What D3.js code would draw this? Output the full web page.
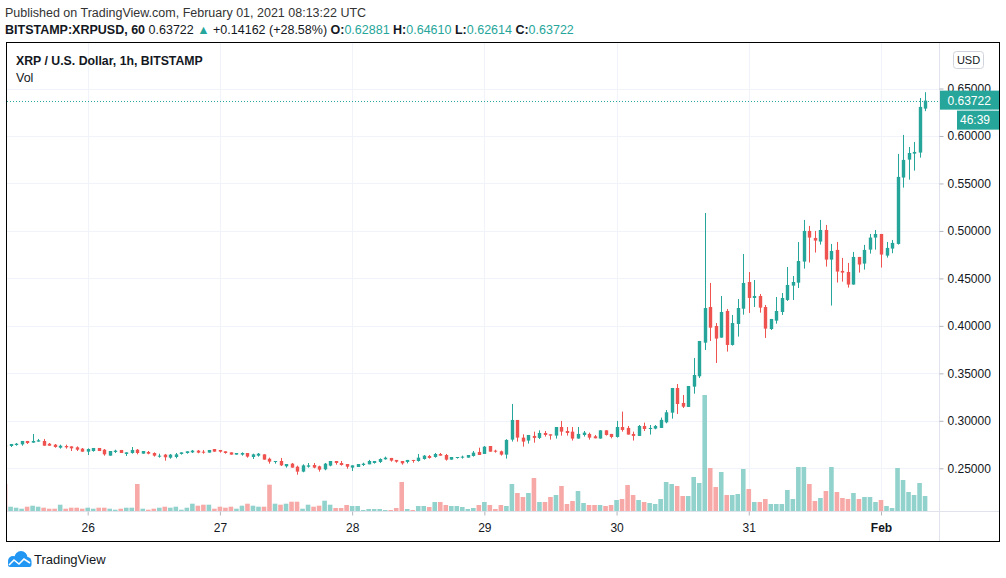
<!DOCTYPE html>
<html>
<head>
<meta charset="utf-8">
<script src="https://cdn.jsdelivr.net/npm/d3@7"></script>
<style>
  html, body { margin: 0; padding: 0; background: #ffffff; }
  svg { display: block; font-family: "Liberation Sans", Arial, sans-serif; }
</style>
</head>
<body>
<svg id="vis" width="1006" height="578"></svg>
<script>
// hourly bars, first one is Jan 25 09:00 UTC
var startTime = Date.UTC(2021, 0, 25, 9);

var opens = [
  .2740,.2735,.2745,.2752,.2788,.2770,.2781,.2788,.2759,.2749,.2717,.2735,
  .2731,.2721,.2707,.2675,.2682,.2714,.2696,.2633,.2672,.2693,.2651,.2661,
  .2696,.2654,.2672,.2661,.2626,.2644,.2612,.2619,.2651,.2661,.2668,.2686,
  .2675,.2665,.2703,.2693,.2679,.2668,.2644,.2644,.2661,.2619,.2633,.2647,
  .2601,.2566,.2577,.2521,.2549,.2517,.2465,.2517,.2535,.2521,.2489,.2528,
  .2577,.2556,.2545,.2507,.2514,.2535,.2542,.2556,.2567,.2595,.2609,.2588,
  .2577,.2567,.2588,.2577,.2598,.2630,.2619,.2651,.2640,.2591,.2612,.2612,
  .2612,.2630,.2672,.2651,.2735,.2686,.2679,.2644,.2802,.3009,.2823,.2792,
  .2841,.2820,.2872,.2858,.2844,.2935,.2893,.2886,.2813,.2851,.2862,.2837,
  .2813,.2900,.2862,.2830,.2935,.2925,.2862,.2841,.2946,.2914,.2918,.2925,
  .2984,.3086,.3346,.3188,.3146,.3360,.3469,.3823,.4199,.3999,.3876,.4157,
  .3799,.4020,.4181,.4462,.4294,.4315,.4199,.3967,.4055,.4146,.4273,.4424,
  .4455,.4677,.5000,.4926,.4888,.5010,.4698,.4800,.4579,.4568,.4435,.4726,
  .4656,.4803,.4930,.4968,.4740,.4814,.4863,.5562,.5751,.5814,.5825,.62881
];
var highs = [
  .2752,.2756,.2766,.2788,.2788,.2861,.2809,.2809,.2766,.2756,.2749,.2749,
  .2731,.2731,.2714,.2710,.2714,.2714,.2703,.2682,.2696,.2693,.2668,.2724,
  .2703,.2682,.2682,.2668,.2654,.2651,.2651,.2661,.2668,.2679,.2693,.2693,
  .2693,.2693,.2703,.2693,.2679,.2668,.2661,.2668,.2661,.2654,.2661,.2647,
  .2612,.2577,.2609,.2545,.2556,.2528,.2542,.2556,.2556,.2528,.2556,.2577,
  .2577,.2577,.2545,.2531,.2545,.2559,.2588,.2577,.2605,.2623,.2609,.2588,
  .2577,.2588,.2588,.2651,.2640,.2640,.2661,.2661,.2651,.2619,.2619,.2633,
  .2640,.2682,.2717,.2735,.2735,.2696,.2686,.2806,.3178,.3009,.2858,.2851,
  .2886,.2900,.2893,.2858,.2935,.2999,.2935,.2935,.2935,.2893,.2876,.2851,
  .2900,.2900,.2862,.2999,.3097,.2946,.2886,.2956,.2981,.2956,.2956,.3034,
  .3114,.3346,.3388,.3272,.3367,.3662,.3841,.5189,.4452,.4030,.4315,.4178,
  .4115,.4283,.4757,.4567,.4483,.4336,.4220,.4073,.4304,.4346,.4620,.4525,
  .4883,.5116,.5053,.5000,.5116,.5063,.4863,.4884,.4716,.4663,.4779,.4726,
  .4853,.4968,.5010,.4968,.4884,.4905,.5811,.6011,.5884,.5937,.6400,.64610
];
var lows = [
  .2728,.2724,.2738,.2738,.2756,.2770,.2781,.2738,.2738,.2717,.2707,.2707,
  .2682,.2682,.2675,.2640,.2675,.2682,.2633,.2633,.2661,.2661,.2630,.2654,
  .2647,.2654,.2647,.2623,.2612,.2580,.2601,.2605,.2644,.2654,.2661,.2658,
  .2654,.2665,.2675,.2665,.2654,.2644,.2644,.2633,.2612,.2598,.2623,.2591,
  .2549,.2549,.2524,.2507,.2507,.2433,.2458,.2507,.2500,.2465,.2479,.2521,
  .2538,.2528,.2496,.2472,.2514,.2524,.2542,.2549,.2556,.2591,.2570,.2559,
  .2538,.2552,.2559,.2570,.2591,.2602,.2612,.2633,.2581,.2591,.2602,.2602,
  .2612,.2623,.2640,.2651,.2675,.2665,.2634,.2602,.2781,.2781,.2728,.2760,
  .2770,.2809,.2834,.2802,.2813,.2844,.2844,.2792,.2813,.2834,.2802,.2816,
  .2813,.2844,.2816,.2823,.2886,.2855,.2792,.2841,.2893,.2855,.2911,.2925,
  .2974,.3023,.3072,.3135,.3146,.3286,.3451,.3746,.3841,.3609,.3876,.3729,
  .3792,.3887,.4118,.4136,.4199,.4139,.3873,.3957,.4023,.4115,.4262,.4273,
  .4399,.4603,.4667,.4772,.4856,.4624,.4214,.4456,.4466,.4403,.4435,.4561,
  .4593,.4761,.4803,.4614,.4719,.4765,.4856,.5456,.5540,.5635,.5772,.62614
];
var closes = [
  .2735,.2756,.2759,.2788,.2766,.2788,.2795,.2738,.2738,.2724,.2738,.2721,
  .2710,.2696,.2675,.2703,.2714,.2682,.2647,.2682,.2686,.2661,.2668,.2693,
  .2661,.2682,.2654,.2633,.2633,.2616,.2644,.2647,.2668,.2679,.2686,.2665,
  .2668,.2693,.2675,.2675,.2661,.2644,.2661,.2661,.2623,.2647,.2654,.2591,
  .2570,.2577,.2531,.2545,.2507,.2465,.2531,.2531,.2507,.2486,.2549,.2577,
  .2556,.2535,.2517,.2531,.2545,.2549,.2577,.2577,.2598,.2612,.2581,.2570,
  .2552,.2588,.2581,.2612,.2633,.2609,.2651,.2633,.2591,.2619,.2619,.2623,
  .2640,.2665,.2640,.2728,.2675,.2675,.2644,.2799,.3009,.2823,.2781,.2851,
  .2820,.2872,.2851,.2844,.2935,.2886,.2872,.2813,.2862,.2876,.2823,.2816,
  .2900,.2851,.2830,.2935,.2904,.2855,.2841,.2946,.2914,.2925,.2946,.3010,
  .3090,.3346,.3177,.3149,.3367,.3483,.3841,.4188,.3981,.3866,.4146,.3799,
  .4030,.4188,.4452,.4294,.4315,.4192,.3971,.4073,.4157,.4294,.4431,.4462,
  .4683,.5000,.4930,.4898,.5010,.4698,.4789,.4572,.4561,.4435,.4726,.4646,
  .4800,.4930,.4968,.4751,.4821,.4874,.5569,.5748,.5821,.5832,.6306,.63722
];
// volume, millions of XRP (estimated)
var volumes = [
  28,5.3,4.3,3.3,5.3,6.3,5.3,4.3,3.3,3.3,7.3,3.3,
  4.3,4.3,3.3,4.3,3.3,4.3,4.3,3.3,2.3,3.3,4.3,4.3,
  28,3.3,2.3,3.3,4.3,5.3,4.3,5.3,2.3,4.3,8.3,6.3,
  7.3,7.3,3.3,5.3,4.3,5.3,3.3,6.3,8.3,6.3,5.3,5.3,
  27.3,8.3,7.3,8.3,10.3,10.3,3.3,7.3,5.3,6.3,11.3,7.3,
  4,4,7,6,6,2,3,3,3,2,2,4,
  30,3,2,6,6,5,10,10,7,6,6,5,
  3,4,7,10,7,3,7,6,28,19,15,19,
  34,10,10,15,17,26,8,11,21,9,7,7,
  7,6,7,12,13,27,17,12,10,9,8,13,
  30,28,26,16,16,35,29,117,44,25,40,17,
  17,18,43,23,10,10,13,8,8,8,22,13,
  45,45,28,11,14,21,45,20,14,13,19,13,
  15,15,10,12,6,4,44,32,20,17,29,16
];

var dayTicks = [26, 27, 28, 29, 30, 31, 32];
var dayLabels = ["26", "27", "28", "29", "30", "31", "Feb"];
var priceTicks = [0.25, 0.30, 0.35, 0.40, 0.45, 0.50, 0.55, 0.60, 0.65];
var lastPrice = 0.63722;
var countdown = "46:39";

var MARGINS = {top: 43, right: 940, bottom: 512, left: 7};
var UP = "#26a69a", DOWN = "#ef5350";
var UP_VOL = "#92d2cc", DOWN_VOL = "#f7a9a7";
var GRID = "#f0f3fa", LINE = "#e0e3eb", TEXT = "#131722";

var display = d3.select("#vis");

var bars = opens.map(function (o, i) {
    return {time: new Date(startTime + i * 3600000), o: o, h: highs[i], l: lows[i], c: closes[i], v: volumes[i]};
});

var xScale = d3.scaleUtc()
    .domain([Date.UTC(2021, 0, 26), Date.UTC(2021, 1, 1)])
    .range([87.7, 881]);
var yScale = d3.scaleLinear()
    .domain([0.25, 0.65])
    .range([468.3, 88.5]);
var volScale = d3.scaleLinear()
    .domain([0, 120])
    .range([MARGINS.bottom, MARGINS.bottom - 120]);
var dayDates = dayTicks.map(function (d) { return new Date(Date.UTC(2021, 0, d)); });

// header text
display.append("text")
    .attr("x", 5).attr("y", 17)
    .style("font-size", "12.5px").attr("fill", "#333")
    .text("Published on TradingView.com, February 01, 2021 08:13:22 UTC");

var head = display.append("text")
    .attr("x", 5).attr("y", 34)
    .style("font-size", "12.5px").attr("fill", TEXT);
head.append("tspan").style("font-weight", "bold").text("BITSTAMP:XRPUSD, 60");
head.append("tspan").text(" 0.63722 ");
head.append("tspan").attr("fill", UP).text("\u25B2");
head.append("tspan").text(" +0.14162 (+28.58%) ");
[["O:", "0.62881"], ["H:", "0.64610"], ["L:", "0.62614"], ["C:", "0.63722"]].forEach(function (p, i) {
    head.append("tspan").style("font-weight", "bold").text((i ? " " : "") + p[0]);
    head.append("tspan").attr("fill", UP).text(p[1]);
});

// grid
var grid = display.append("g");
grid.selectAll("line.h").data(priceTicks).enter().append("line")
    .attr("x1", MARGINS.left).attr("x2", MARGINS.right)
    .attr("y1", function (d) { return Math.round(yScale(d)) + 0.5; })
    .attr("y2", function (d) { return Math.round(yScale(d)) + 0.5; })
    .attr("stroke", GRID);
grid.selectAll("line.v").data(dayDates).enter().append("line")
    .attr("x1", function (d) { return Math.round(xScale(d)) + 0.5; })
    .attr("x2", function (d) { return Math.round(xScale(d)) + 0.5; })
    .attr("y1", MARGINS.top).attr("y2", MARGINS.bottom)
    .attr("stroke", GRID);

display.append("clipPath").attr("id", "plotClip")
    .append("rect")
    .attr("x", MARGINS.left).attr("y", MARGINS.top)
    .attr("width", MARGINS.right - MARGINS.left)
    .attr("height", MARGINS.bottom - MARGINS.top);

var plot = display.append("g").attr("clip-path", "url(#plotClip)");

// volume bars
plot.append("g").selectAll("rect").data(bars).enter().append("rect")
    .attr("x", function (d) { return xScale(d.time) - 2.3; })
    .attr("width", 4.6)
    .attr("y", function (d) { return volScale(d.v); })
    .attr("height", function (d) { return volScale(0) - volScale(d.v); })
    .attr("fill", function (d) { return d.c >= d.o ? UP_VOL : DOWN_VOL; });

// candles
var candle = plot.append("g").selectAll("g").data(bars).enter().append("g");
candle.append("line")
    .attr("x1", function (d) { return Math.round(xScale(d.time)) + 0.5; })
    .attr("x2", function (d) { return Math.round(xScale(d.time)) + 0.5; })
    .attr("y1", function (d) { return yScale(d.h); })
    .attr("y2", function (d) { return yScale(d.l); })
    .attr("stroke", function (d) { return d.c >= d.o ? UP : DOWN; });
candle.append("rect")
    .attr("x", function (d) { return Math.round(xScale(d.time)) + 0.5 - 1.7; })
    .attr("width", 3.4)
    .attr("y", function (d) { return yScale(Math.max(d.o, d.c)); })
    .attr("height", function (d) { return Math.max(1, yScale(Math.min(d.o, d.c)) - yScale(Math.max(d.o, d.c))); })
    .attr("fill", function (d) { return d.c >= d.o ? UP : DOWN; });

// last price dotted line
plot.append("line")
    .attr("x1", MARGINS.left).attr("x2", MARGINS.right)
    .attr("y1", Math.round(yScale(lastPrice)) + 0.5)
    .attr("y2", Math.round(yScale(lastPrice)) + 0.5)
    .attr("stroke", UP).attr("stroke-dasharray", "1,2");

// separators
display.append("line")
    .attr("x1", MARGINS.right - 0.5).attr("x2", MARGINS.right - 0.5)
    .attr("y1", MARGINS.top).attr("y2", 541)
    .attr("stroke", LINE);
display.append("line")
    .attr("x1", MARGINS.left).attr("x2", 999)
    .attr("y1", MARGINS.bottom - 0.5).attr("y2", MARGINS.bottom - 0.5)
    .attr("stroke", LINE);

// price axis
var yAxis = d3.axisRight(yScale)
    .tickValues(priceTicks)
    .tickSize(4)
    .tickPadding(4)
    .tickFormat(d3.format(".5f"));
var yg = display.append("g")
    .attr("transform", "translate(" + (MARGINS.right - 0.5) + ",0)")
    .call(yAxis);
yg.select(".domain").remove();
yg.selectAll(".tick line").attr("stroke", "#b2b5be");
yg.selectAll(".tick text").attr("fill", TEXT).style("font-size", "12px")
    .style("font-family", "Liberation Sans, Arial, sans-serif");

// time axis
var xAxis = d3.axisBottom(xScale)
    .tickValues(dayDates)
    .tickSize(4)
    .tickFormat(function (d, i) { return dayLabels[i]; });
var xg = display.append("g")
    .attr("transform", "translate(0," + (MARGINS.bottom - 0.5) + ")")
    .call(xAxis);
xg.select(".domain").remove();
xg.selectAll(".tick line").attr("stroke", "#b2b5be");
xg.selectAll(".tick text")
    .attr("y", 16).attr("dy", "0.35em")
    .attr("fill", TEXT).style("font-size", "12px")
    .style("font-family", "Liberation Sans, Arial, sans-serif")
    .style("font-weight", function (d, i) { return dayLabels[i] === "Feb" ? "bold" : "normal"; });

// price label + countdown
var py = yScale(lastPrice);
display.append("rect")
    .attr("x", MARGINS.right).attr("y", py - 10).attr("width", 59).attr("height", 19)
    .attr("fill", UP);
display.append("text")
    .attr("x", 947.5).attr("y", py).attr("dy", "0.35em")
    .attr("fill", "#fff").style("font-size", "12px")
    .text(d3.format(".5f")(lastPrice));
display.append("rect")
    .attr("x", 957).attr("y", py + 10).attr("width", 42).attr("height", 19)
    .attr("fill", UP);
display.append("text")
    .attr("x", 990).attr("y", py + 19.5).attr("dy", "0.35em")
    .attr("text-anchor", "end")
    .attr("fill", "#fff").style("font-size", "12px")
    .text(countdown);

// currency button
display.append("rect")
    .attr("x", 953.5).attr("y", 51.5).attr("width", 30).attr("height", 17).attr("rx", 3)
    .attr("fill", "#fff").attr("stroke", "#d1d4dc");
display.append("text")
    .attr("x", 968.5).attr("y", 60).attr("dy", "0.35em").attr("text-anchor", "middle")
    .attr("fill", TEXT).style("font-size", "11px")
    .text("USD");

// legend
display.append("text")
    .attr("x", 16).attr("y", 61).attr("dy", "0.35em")
    .attr("fill", TEXT).style("font-size", "12.3px").style("font-weight", "bold")
    .text("XRP / U.S. Dollar, 1h, BITSTAMP");
display.append("text")
    .attr("x", 16).attr("y", 78).attr("dy", "0.35em")
    .attr("fill", TEXT).style("font-size", "12.5px")
    .text("Vol");

// outer frame
display.append("rect")
    .attr("x", 6.5).attr("y", 42.5).attr("width", 993).attr("height", 499)
    .attr("fill", "none").attr("stroke", "#000");

// footer logo
var logo = display.append("g");
logo.append("circle").attr("cx", 13).attr("cy", 561).attr("r", 5).attr("fill", "#2196f3");
logo.append("circle").attr("cx", 21).attr("cy", 557.5).attr("r", 6.5).attr("fill", "#2196f3");
logo.append("circle").attr("cx", 27).attr("cy", 561.5).attr("r", 4.5).attr("fill", "#2196f3");
logo.append("rect").attr("x", 8).attr("y", 561).attr("width", 23.5).attr("height", 6).attr("rx", 2).attr("fill", "#2196f3");
logo.append("polyline")
    .attr("points", "9,565 14,560 19,564 24,559 30,563")
    .attr("fill", "none").attr("stroke", "#fff").attr("stroke-width", 1.6);
display.append("text")
    .attr("x", 34).attr("y", 559.5).attr("dy", "0.35em")
    .attr("fill", TEXT).style("font-size", "13px")
    .text("TradingView");
</script>
</body>
</html>
